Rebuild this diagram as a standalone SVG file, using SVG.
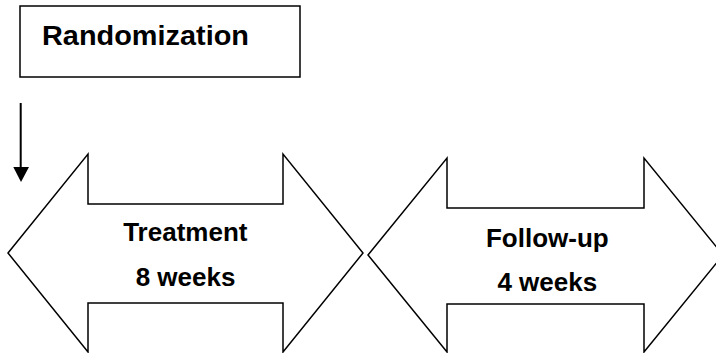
<svg xmlns="http://www.w3.org/2000/svg" width="716" height="353" viewBox="0 0 716 353">
<style>
.box{fill:#fff;stroke:#000;stroke-width:1.5}
.arr{fill:#fff;stroke:#000;stroke-width:1.5;stroke-linejoin:miter}
.t{font-family:"Liberation Sans",Arial,sans-serif;font-weight:bold;fill:#000}
</style>
<rect width="716" height="353" fill="#fff"/>
<g id="randomization">
<rect class="box" x="20" y="6" width="280" height="71"/>
<text class="t" x="42" y="45" font-size="27.5" textLength="207" lengthAdjust="spacingAndGlyphs">Randomization</text>
</g>
<g id="connectors">
<line x1="20.7" y1="103" x2="20.7" y2="168" stroke="#000" stroke-width="2"/>
<path d="M13.3,167 L29,167 L21,182 Z" fill="#000"/>
</g>
<g id="treatment">
<path class="arr" d="M8,253 L88,154 L88,204 L283,204 L283,154 L363,253 L283,352 L283,303 L88,303 L88,352 Z"/>
<text class="t" x="185.3" y="240.7" font-size="26" text-anchor="middle">Treatment</text>
<text class="t" x="185.5" y="286" font-size="26" text-anchor="middle">8 weeks</text>
</g>
<g id="followup">
<path class="arr" d="M368,255 L447,158 L447,208 L644,208 L644,158 L723,255 L644,352 L644,304 L447,304 L447,352 Z"/>
<text class="t" x="547.3" y="246.5" font-size="26" text-anchor="middle">Follow-up</text>
<text class="t" x="547.3" y="291" font-size="26" text-anchor="middle">4 weeks</text>
</g>
</svg>
